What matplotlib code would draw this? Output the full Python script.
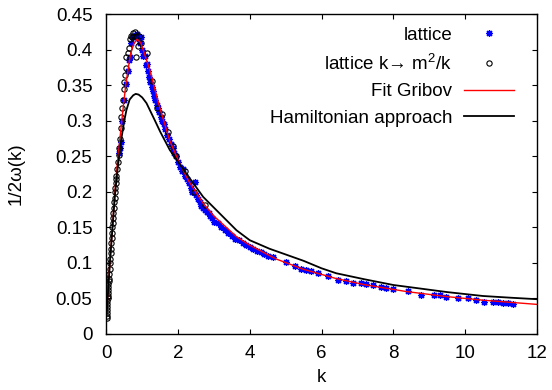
import matplotlib
matplotlib.use('Agg')
import matplotlib.pyplot as plt
from matplotlib.ticker import FuncFormatter

plt.rcParams['font.family'] = ['Liberation Sans', 'DejaVu Sans']
plt.rcParams['mathtext.fontset'] = 'custom'
plt.rcParams['mathtext.rm'] = 'Liberation Sans'
plt.rcParams['font.size'] = 13.5

# lattice data (blue asterisks)
lat_k = [0.34, 0.37, 0.40, 0.45, 0.50, 0.55, 0.60, 0.63, 0.66, 0.70, 0.74, 0.78, 0.82, 0.86,
         0.90, 0.93, 0.96, 1.00, 1.03, 1.07, 1.10, 1.13, 1.16, 1.20, 1.23, 1.27, 1.30, 1.33,
         1.37, 1.40, 1.44, 1.48, 1.52, 1.56, 1.60, 1.65, 1.70, 1.75, 1.80, 1.85, 1.90, 1.95,
         2.00, 2.05, 2.10, 2.15, 2.20, 2.25, 2.30, 2.35, 2.40, 2.47, 2.50, 2.55, 2.60, 2.65,
         2.70, 2.75, 2.80, 2.85, 2.90, 2.95, 3.00, 3.10, 3.20, 3.30, 3.40, 3.50, 3.60, 3.70,
         3.80, 3.90, 4.00, 4.10, 4.20, 4.30, 4.40, 4.50, 4.65, 5.02, 5.25, 5.44, 5.58, 5.72,
         5.90, 6.18, 6.46, 6.67, 6.87, 7.10, 7.25, 7.43, 7.67, 7.80, 7.99, 8.40, 8.78, 9.15,
         9.29, 9.48, 9.80, 10.08, 10.31, 10.54, 10.77, 10.91, 11.05, 11.19, 11.33]
lat_v = [0.255, 0.262, 0.270, 0.300, 0.330, 0.352, 0.370, 0.385, 0.390, 0.410, 0.418, 0.420, 0.418, 0.422,
         0.415, 0.410, 0.418, 0.400, 0.392, 0.392, 0.378, 0.380, 0.370, 0.362, 0.355, 0.348, 0.342, 0.335,
         0.330, 0.322, 0.318, 0.312, 0.305, 0.300, 0.296, 0.288, 0.280, 0.275, 0.268, 0.262, 0.255, 0.250,
         0.242, 0.235, 0.230, 0.232, 0.222, 0.218, 0.212, 0.206, 0.200, 0.214, 0.195, 0.190, 0.186, 0.180,
         0.177, 0.175, 0.172, 0.170, 0.166, 0.163, 0.158, 0.156, 0.150, 0.146, 0.142, 0.138, 0.134, 0.132,
         0.128, 0.125, 0.122, 0.120, 0.117, 0.115, 0.112, 0.110, 0.109, 0.102, 0.096, 0.091, 0.090, 0.089,
         0.0864, 0.0817, 0.076, 0.0746, 0.0723, 0.0713, 0.0704, 0.069, 0.0658, 0.0643, 0.063, 0.061, 0.0549, 0.0549,
         0.0549, 0.0517, 0.0502, 0.0502, 0.0479, 0.0455, 0.0446, 0.0446, 0.0441, 0.0432, 0.0423]

# lattice with k -> m^2/k (open circles)
map_k = [0.010, 0.012, 0.015, 0.018, 0.020, 0.025, 0.030, 0.035, 0.040, 0.045, 0.050, 0.055, 0.060,
         0.065, 0.070, 0.080, 0.090, 0.100, 0.110, 0.120, 0.130, 0.140, 0.150, 0.160, 0.170, 0.180,
         0.190, 0.200, 0.210, 0.220, 0.230, 0.240, 0.250, 0.260, 0.270, 0.280, 0.300, 0.320, 0.340,
         0.360, 0.380, 0.400, 0.420, 0.440, 0.460, 0.480, 0.500, 0.520, 0.540, 0.560, 0.600, 0.620,
         0.650, 0.680, 0.720, 0.750, 0.800, 0.830, 0.840, 0.880, 0.910, 0.970, 1.14, 1.26, 1.40,
         1.55, 1.72, 1.85, 1.95, 2.20, 2.45, 2.75]
map_v = [0.022, 0.026, 0.030, 0.034, 0.038, 0.042, 0.046, 0.050, 0.054, 0.058, 0.062, 0.066, 0.070,
         0.074, 0.078, 0.085, 0.092, 0.100, 0.106, 0.114, 0.120, 0.128, 0.135, 0.142, 0.150, 0.156,
         0.163, 0.170, 0.178, 0.186, 0.192, 0.200, 0.205, 0.212, 0.218, 0.222, 0.232, 0.242, 0.252,
         0.262, 0.275, 0.290, 0.305, 0.318, 0.330, 0.345, 0.355, 0.365, 0.375, 0.390, 0.395, 0.402,
         0.415, 0.420, 0.418, 0.424, 0.425, 0.390, 0.420, 0.405, 0.420, 0.410, 0.396, 0.356, 0.318,
         0.310, 0.285, 0.265, 0.250, 0.230, 0.200, 0.182]

# Gribov fit (red)
fit_k = [0.01, 0.05, 0.1, 0.17, 0.24, 0.3, 0.36, 0.42, 0.54, 0.67, 0.76, 0.86, 0.96, 1.06, 1.21,
         1.35, 1.5, 1.77, 2.0, 2.3, 2.7, 3.0, 3.63, 4.0, 4.74, 5.5, 6.41, 7.2, 8.36, 9.5, 10.5, 12.0]
fit_v = [0.028, 0.065, 0.1, 0.15, 0.2, 0.235, 0.265, 0.295, 0.35, 0.393, 0.408, 0.415, 0.41, 0.395, 0.372,
         0.345, 0.317, 0.272, 0.245, 0.215, 0.184, 0.166, 0.137, 0.125, 0.1055, 0.091, 0.078, 0.0694,
         0.0598, 0.0526, 0.0476, 0.0417]

# Hamiltonian approach (black)
ham_k = [0.01, 0.1, 0.17, 0.24, 0.32, 0.42, 0.5, 0.56, 0.65, 0.75, 0.82, 0.9, 1.0, 1.12, 1.35, 1.5,
         1.77, 2.2, 2.7, 3.63, 4.0, 4.55, 4.83, 5.5, 6.0, 6.41, 7.2, 8.0, 8.36, 9.5, 10.5, 11.3, 12.0]
ham_v = [0.028, 0.1, 0.148, 0.195, 0.235, 0.275, 0.3, 0.315, 0.33, 0.336, 0.338, 0.337, 0.333, 0.325,
         0.301, 0.285, 0.259, 0.228, 0.193, 0.146, 0.132, 0.12, 0.115, 0.103, 0.0925, 0.0855, 0.077,
         0.069, 0.0666, 0.059, 0.0535, 0.051, 0.049]

fig = plt.figure(figsize=(5.52, 3.9), dpi=100)
ax = fig.add_axes([0.1926, 0.1436, 0.7797, 0.8197])

ax.plot(lat_k, lat_v, ls='none', marker=(8, 2, 0), ms=5, mew=0.9, color='#0000ff', label='lattice')
ax.plot(map_k, map_v, ls='none', marker='o', ms=3.8, mew=0.8, mfc='none', mec='black',
        label='lattice k\u2192 m$^2$/k')
ax.plot(fit_k, fit_v, color='red', lw=1.0, label='Fit Gribov')
ax.plot(ham_k, ham_v, color='black', lw=1.3, label='Hamiltonian approach')

ax.set_xlim(0, 12)
ax.set_ylim(0, 0.45)
ax.set_xticks(range(0, 13, 2))
ax.set_yticks([0, 0.05, 0.1, 0.15, 0.2, 0.25, 0.3, 0.35, 0.4, 0.45])
ax.yaxis.set_major_formatter(FuncFormatter(lambda v, p: '%g' % round(v, 2)))
ax.tick_params(direction='in', top=True, right=True, length=3.5, width=0.8, labelsize=13.5)
ax.tick_params(axis='y', pad=10)
ax.tick_params(axis='x', pad=8)
for s in ax.spines.values():
    s.set_linewidth(1.0)

ax.set_xlabel('k', fontsize=13.5, labelpad=5)
ax.set_ylabel('1/2\u03c9(k)', fontsize=13.5, labelpad=22)

ax.legend(loc='upper right', bbox_to_anchor=(0.947, 0.962), frameon=False, markerfirst=False,
          numpoints=1, handlelength=2.67, handletextpad=0.62, labelspacing=0.5,
          borderpad=0, borderaxespad=0, fontsize=13.5)

fig.savefig('out.png', dpi=100)
